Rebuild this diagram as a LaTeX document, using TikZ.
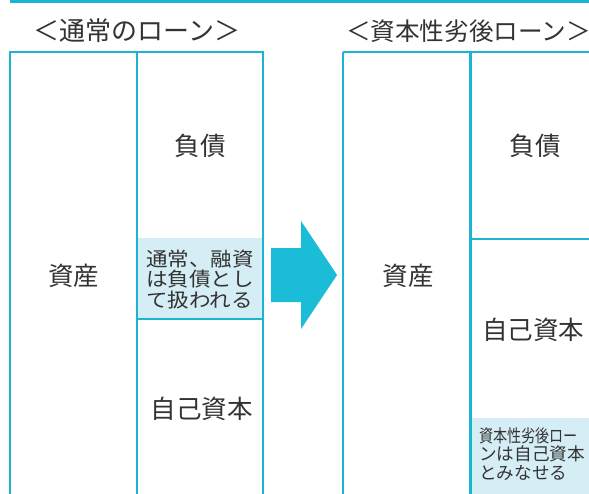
\documentclass[tikz,border=0pt]{standalone}
\usepackage{fontspec}
\setmainfont{Noto Sans CJK JP}
\newfontfamily\jpwide[FakeStretch=1.1]{Noto Sans CJK JP}
\definecolor{lc}{HTML}{1BB4D3}
\definecolor{arrowc}{HTML}{1ABCD8}
\definecolor{pale}{HTML}{D5EDF5}
\definecolor{txt}{HTML}{333333}
\begin{document}
\begin{tikzpicture}[x=1pt,y=-1pt,
  box/.style={draw=lc,line width=1.5pt},
  boxthick/.style={draw=lc,line width=2.6pt},
  title/.style={text=txt,inner sep=0pt,font=\fontsize{26}{28}\selectfont},
  big/.style={text=txt,inner sep=0pt,font=\fontsize{25.5}{27}\selectfont},
  note/.style={text=txt,inner sep=0pt,align=left,anchor=west,font=\jpwide\fontsize{19.6}{20.7}\selectfont},
  smallnote/.style={text=txt,inner sep=0pt,align=left,anchor=west,font=\fontsize{17.6}{18.5}\selectfont}]
\useasboundingbox (0,0) rectangle (589,493);
\fill[white] (0,0) rectangle (589,493);
% top rule
\draw[lc,line width=3pt] (10,1.5) -- (600,1.5);
% titles
\node[title] (t1) at (137,31) {＜通常のローン＞};
\node[title,font=\fontsize{24.6}{28}\selectfont] (t2) at (468.5,31) {＜資本性劣後ローン＞};
% left structure
\fill[pale] (137,238) rectangle (263,319);
\draw[box] (10,52) rectangle (263,510);
\draw[box] (137,52) -- (137,510);
\draw[box] (137,319) -- (263,319);
% right structure
\fill[pale] (471,418) rectangle (600,510);
\draw[box] (343,52) -- (600,52);
\draw[boxthick] (343,52) -- (343,510);
\draw[boxthick] (470.5,52) -- (470.5,510);
\draw[box] (470.5,239) -- (600,239);
% arrow
\fill[arrowc] (271,248) -- (301,248) -- (301,221) -- (337,275) -- (301,329) -- (301,302) -- (271,302) -- cycle;
% left labels
\node[big] (la) at (73.5,276) {資産};
\node[big] (ld) at (200,146) {負債};
\node[big] (le) at (201.5,409) {自己資本};
\node[note] (ln) at (146,279.5) {通常、融資\\は負債とし\\て扱われる};
% right labels
\node[big] (ra) at (408,276) {資産};
\node[big] (rd) at (535,146) {負債};
\node[big] (re) at (533,330) {自己資本};
\node[smallnote] (rn) at (479,454) {\scalebox{0.8}[1]{資本性劣後ロー}\\ンは自己資本\\とみなせる};
\end{tikzpicture}
\end{document}
